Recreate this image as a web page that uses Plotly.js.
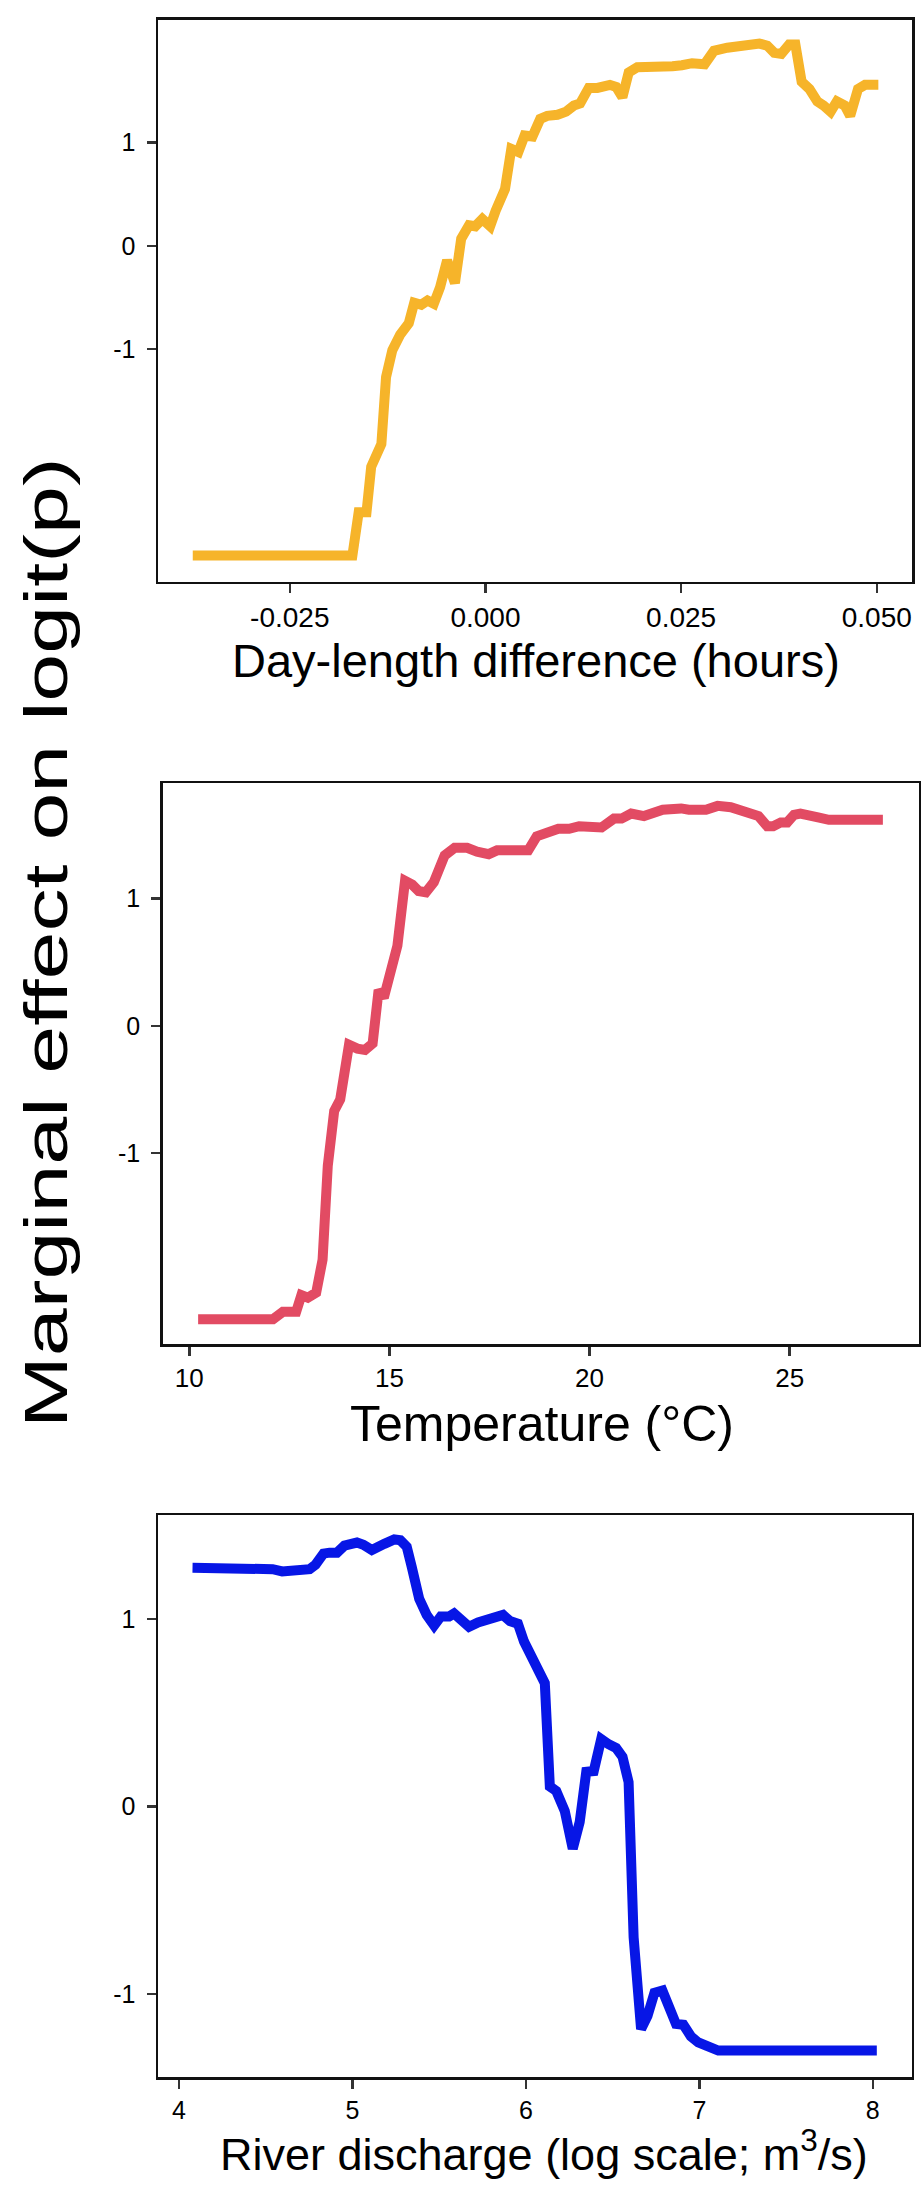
<!DOCTYPE html>
<html>
<head>
<meta charset="utf-8">
<script src="https://cdn.plot.ly/plotly-3.0.1.min.js"></script>
<style>
  html, body { margin: 0; padding: 0; background: #ffffff; }
  #chart { width: 921px; height: 2197px; }
</style>
</head>
<body>
<div id="chart"></div>
<script>
// ---------- Data ----------
// Panel 1: Day-length difference (hours)
var dayX = [-0.0374,-0.0170,-0.0162,-0.0152,-0.0146,-0.0133,-0.0127,-0.0119,-0.0109,-0.0098,
            -0.0091,-0.0082,-0.0074,-0.0066,-0.0058,-0.0049,-0.0039,-0.0031,-0.0021,-0.0013,
            -0.0004,0.0006,0.0013,0.0025,0.0033,0.0042,0.0050,0.0060,0.0070,0.0079,
            0.0092,0.0103,0.0113,0.0121,0.0132,0.0143,0.0159,0.0167,0.0175,0.0183,
            0.0194,0.0210,0.0228,0.0239,0.0251,0.0264,0.0280,0.0292,0.0309,0.0328,
            0.0350,0.0360,0.0369,0.0378,0.0388,0.0396,0.0404,0.0414,0.0424,0.0432,
            0.0441,0.0449,0.0459,0.0466,0.0476,0.0485,0.0502];
var dayY = [-3.00,-3.00,-2.58,-2.58,-2.14,-1.92,-1.27,-1.01,-0.86,-0.75,
            -0.55,-0.57,-0.53,-0.56,-0.40,-0.14,-0.36,0.07,0.20,0.19,
            0.26,0.19,0.34,0.55,0.94,0.91,1.07,1.06,1.23,1.26,
            1.27,1.30,1.36,1.38,1.53,1.53,1.56,1.54,1.44,1.68,
            1.73,1.73,1.72,1.74,1.75,1.77,1.76,1.89,1.92,1.95,
            1.96,1.94,1.87,1.86,1.95,1.95,1.59,1.52,1.40,1.36,
            1.30,1.40,1.36,1.26,1.52,1.56,1.56];

// Panel 2: Temperature (°C)
var tempX = [10.22,12.09,12.34,12.67,12.80,12.96,13.17,13.33,13.46,13.62,
             13.77,13.99,14.20,14.39,14.58,14.73,14.86,15.04,15.20,15.39,
             15.57,15.73,15.91,16.11,16.38,16.63,16.94,17.19,17.48,17.69,
             18.12,18.47,18.68,18.93,19.22,19.49,19.74,20.30,20.61,20.80,
             21.04,21.36,21.60,21.83,22.29,22.48,22.91,23.20,23.53,23.91,
             24.22,24.44,24.59,24.78,24.94,25.11,25.27,25.71,25.98,27.33];
var tempY = [-2.31,-2.31,-2.25,-2.25,-2.12,-2.14,-2.10,-1.84,-1.10,-0.67,
             -0.58,-0.15,-0.18,-0.19,-0.14,0.28,0.22,0.41,0.63,1.14,
             1.11,1.06,1.05,1.13,1.34,1.40,1.40,1.37,1.35,1.38,
             1.39,1.38,1.49,1.52,1.55,1.55,1.57,1.56,1.63,1.63,
             1.67,1.65,1.67,1.70,1.71,1.70,1.70,1.73,1.72,1.69,
             1.65,1.57,1.57,1.60,1.60,1.66,1.67,1.64,1.62,1.62];

// Panel 3: River discharge (log scale)
var flowX = [4.078,4.35,4.54,4.595,4.667,4.753,4.787,4.833,4.868,4.911,
             4.954,5.026,5.063,5.112,5.184,5.241,5.276,5.313,5.342,5.385,
             5.428,5.471,5.509,5.557,5.586,5.629,5.672,5.724,5.767,5.816,
             5.868,5.908,5.954,5.989,6.046,6.109,6.138,6.175,6.224,6.270,
             6.310,6.348,6.391,6.434,6.477,6.52,6.557,6.592,6.621,6.664,
             6.701,6.741,6.787,6.828,6.865,6.908,6.951,6.994,7.052,7.109,8.023];
var flowY = [1.273,1.273,1.266,1.254,1.254,1.266,1.290,1.349,1.354,1.354,
             1.392,1.408,1.396,1.368,1.401,1.425,1.420,1.385,1.278,1.108,
             1.022,0.966,1.013,1.013,1.030,0.994,0.959,0.982,0.994,1.013,
             1.022,0.989,0.975,0.880,0.786,0.658,0.107,0.083,-0.024,-0.225,
             -0.083,0.185,0.189,0.360,0.332,0.312,0.265,0.130,-0.698,-1.188,
             -1.117,-0.994,-0.982,-1.070,-1.160,-1.164,-1.226,-1.259,-1.283,-1.302,-1.302];

// Tick values / labels
var dayTickVals = [-0.025, 0, 0.025, 0.05];
var dayTickText = ["-0.025", "0.000", "0.025", "0.050"];
var tempTickVals = [10, 15, 20, 25];
var tempTickText = ["10", "15", "20", "25"];
var flowTickVals = [4, 5, 6, 7, 8];
var flowTickText = ["4", "5", "6", "7", "8"];
var yTickVals = [-1, 0, 1];
var yTickText = ["-1", "0", "1"];

// Titles
var yTitle = "Marginal effect on logit(p)";
var xTitles = ["Day-length difference (hours)", "Temperature (°C)", "River discharge (log scale; m<sup>3</sup>/s)"];

// ---------- Styling ----------
var W = 921, H = 2197;
var FONT = "Liberation Sans, Arial, Helvetica, sans-serif";
function px2x(p) { return p / W; }
function px2y(p) { return 1 - p / H; }

var lineW = 10;
var traces = [
  { x: dayX, y: dayY, xaxis: 'x', yaxis: 'y', type: 'scatter', mode: 'lines',
    line: { color: '#F6B42A', width: lineW }, hoverinfo: 'skip' },
  { x: tempX, y: tempY, xaxis: 'x2', yaxis: 'y2', type: 'scatter', mode: 'lines',
    line: { color: '#E24B63', width: lineW }, hoverinfo: 'skip' },
  { x: flowX, y: flowY, xaxis: 'x3', yaxis: 'y3', type: 'scatter', mode: 'lines',
    line: { color: '#0716E6', width: lineW }, hoverinfo: 'skip' }
];

function xAxis(domain, range, vals, text, fs, anchor) {
  return {
    domain: domain, range: range, anchor: anchor,
    tickmode: 'array', tickvals: vals, ticktext: text,
    ticks: 'outside', ticklen: 9, tickwidth: 2.5, tickcolor: '#333333',
    showline: true, linecolor: '#111111', linewidth: 2.5, mirror: true,
    showgrid: false, zeroline: false,
    tickfont: { family: FONT, size: fs, color: '#000000' }
  };
}
function yAxis(domain, range, anchor) {
  return {
    domain: domain, range: range, anchor: anchor,
    tickmode: 'array', tickvals: yTickVals, ticktext: yTickText,
    ticks: 'outside', ticklen: 9, tickwidth: 2.5, tickcolor: '#333333',
    ticklabelstandoff: 6,
    showline: true, linecolor: '#111111', linewidth: 2.5, mirror: true,
    showgrid: false, zeroline: false,
    tickfont: { family: FONT, size: 25, color: '#000000' }
  };
}

var layout = {
  width: W, height: H,
  margin: { l: 0, r: 0, t: 0, b: 0, pad: 0 },
  paper_bgcolor: '#ffffff', plot_bgcolor: '#ffffff',
  showlegend: false,
  font: { family: FONT, color: '#000000' },
  xaxis:  xAxis([px2x(158), px2x(912)],   [-0.04184, 0.0545], dayTickVals, dayTickText, 28, 'y'),
  yaxis:  yAxis([px2y(581.7), px2y(19.5)], [-3.253, 2.193], 'x'),
  xaxis2: xAxis([px2x(162.7), px2x(918.5)], [9.335, 28.22], tempTickVals, tempTickText, 26, 'y2'),
  yaxis2: yAxis([px2y(1344), px2y(783)],  [-2.504, 1.910], 'x2'),
  xaxis3: xAxis([px2x(158), px2x(911.5)], [3.879, 8.223], flowTickVals, flowTickText, 25, 'y3'),
  yaxis3: yAxis([px2y(2077), px2y(1515)], [-1.443, 1.555], 'x3'),
  annotations: [
    { text: yTitle, xref: 'paper', yref: 'paper', x: px2x(45), y: px2y(943),
      xanchor: 'center', yanchor: 'middle', textangle: -90, showarrow: false,
      font: { family: FONT, size: 62, color: '#000000' } },
    { text: xTitles[0], xref: 'paper', yref: 'paper', x: px2x(536), y: px2y(660),
      xanchor: 'center', yanchor: 'middle', showarrow: false,
      font: { family: FONT, size: 47, color: '#000000' } },
    { text: xTitles[1], xref: 'paper', yref: 'paper', x: px2x(541.5), y: px2y(1424),
      xanchor: 'center', yanchor: 'middle', showarrow: false,
      font: { family: FONT, size: 50, color: '#000000' } },
    { text: xTitles[2], xref: 'paper', yref: 'paper', x: px2x(544), y: px2y(2151),
      xanchor: 'center', yanchor: 'middle', showarrow: false,
      font: { family: FONT, size: 45, color: '#000000' } }
  ]
};

Plotly.newPlot('chart', traces, layout, { staticPlot: true, displayModeBar: false }).then(function (gd) {
  // The reference's y title is elongated along its baseline; stretch it vertically about its centre.
  try {
    var g = gd.querySelector('g.annotation[data-index="0"]');
    if (g) {
      var cy = 943;
      g.setAttribute('transform', 'translate(0,' + cy + ') scale(1,1.39) translate(0,' + (-cy) + ')');
    }
  } catch (e) {}
});
</script>
</body>
</html>
